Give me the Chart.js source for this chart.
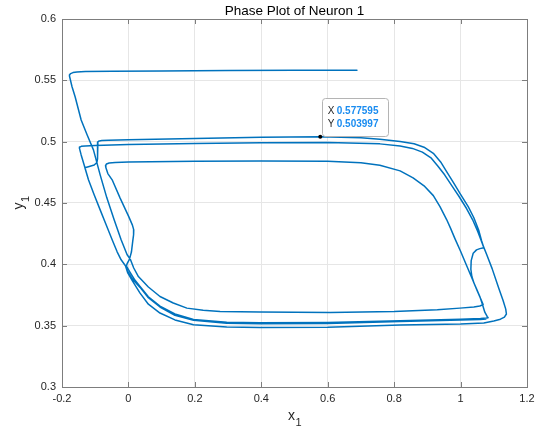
<!DOCTYPE html>
<html><head><meta charset="utf-8">
<script src="https://cdn.jsdelivr.net/npm/chart.js@4.4.1/dist/chart.umd.min.js"></script>
<style>html,body{margin:0;padding:0;background:#fff;} #wrap{width:542px;height:432px;}</style>
</head><body><div id="wrap"><canvas id="c" width="542" height="432"></canvas></div>
<script>
const FONT = '"Liberation Sans", Arial, Helvetica, sans-serif';
const titleText = 'Phase Plot of Neuron 1';
const xLabel = ['x', '1'];
const yLabel = ['y', '1'];
const xTickValues = [-0.2, 0, 0.2, 0.4, 0.6, 0.8, 1, 1.2];
const xTickLabels = ['-0.2', '0', '0.2', '0.4', '0.6', '0.8', '1', '1.2'];
const yTickValues = [0.3, 0.35, 0.4, 0.45, 0.5, 0.55, 0.6];
const yTickLabels = ['0.3', '0.35', '0.4', '0.45', '0.5', '0.55', '0.6'];
const tipX = 0.577595;
const tipY = 0.503997;

// trajectory segments, in order of traversal
const transientTopX = [0.688, 0.5, 0.3, 0.1, -0.05, -0.13, -0.155, -0.167, -0.174, -0.177];
const transientTopY = [0.5583, 0.5582, 0.5580, 0.5577, 0.5574, 0.5571, 0.5568, 0.5563, 0.5555, 0.5545];
const transientDownX = [-0.1775, -0.1700, -0.1603, -0.1423, -0.1242, -0.1053, -0.0851, -0.0650, -0.0430, -0.0220, -0.0039, 0.0060];
const transientDownY = [0.5535, 0.5450, 0.5364, 0.5177, 0.5055, 0.4933, 0.4729, 0.4542, 0.4363, 0.4200, 0.4078, 0.4040];
const innerBottomX = [0.016, 0.030, 0.060, 0.095, 0.135, 0.176, 0.225, 0.276, 0.396, 0.607, 0.8, 0.93, 0.998, 1.04, 1.058, 1.068];
const innerBottomY = [0.3970, 0.3900, 0.3815, 0.3738, 0.3685, 0.3643, 0.3625, 0.3616, 0.3611, 0.3608, 0.3615, 0.3630, 0.3643, 0.3653, 0.3660, 0.3672];
const innerTopX = [1.05, 1.035, 1.02, 1.0, 0.983, 0.97, 0.958, 0.938, 0.918, 0.89, 0.857, 0.818, 0.757, 0.70, 0.6, 0.4, 0.2, 0.0, -0.04, -0.058, -0.066];
const innerTopY = [0.3786, 0.3882, 0.3978, 0.4107, 0.4210, 0.4293, 0.4365, 0.4470, 0.4560, 0.4640, 0.4705, 0.4762, 0.4808, 0.4828, 0.4840, 0.4843, 0.4840, 0.4834, 0.4830, 0.4826, 0.4818];
const innerDownX = [-0.069, -0.068, -0.062, -0.049, -0.025, 0.001, 0.012, 0.016, 0.0155, 0.013, 0.009, 0.003, -0.004];
const innerDownY = [0.4805, 0.4790, 0.4740, 0.4689, 0.4540, 0.4389, 0.4320, 0.4281, 0.4240, 0.4190, 0.4100, 0.4040, 0.4005];
const bottomAX = [-0.006, 0.005, 0.020, 0.035, 0.060, 0.095, 0.14, 0.196, 0.296, 0.396, 0.6, 0.818, 1.0, 1.06, 1.078];
const bottomAY = [0.3985, 0.3935, 0.3870, 0.3820, 0.3735, 0.3659, 0.3595, 0.3550, 0.3528, 0.3523, 0.3525, 0.3540, 0.3553, 0.3558, 0.3562];
const kinkUpX = [1.083, 1.080, 1.073, 1.065, 1.058, 1.048, 1.040, 1.034, 1.031, 1.032, 1.038, 1.048, 1.058, 1.070];
const kinkUpY = [0.3565, 0.3575, 0.3610, 0.3680, 0.3738, 0.3800, 0.3850, 0.3900, 0.3960, 0.4030, 0.4090, 0.4118, 0.4128, 0.4135];
const upperTopX = [1.063, 1.055, 1.04, 1.023, 1.0, 0.98, 0.958, 0.94, 0.918, 0.89, 0.86, 0.818, 0.757, 0.70, 0.577595, 0.4, 0.2, 0.0, -0.06, -0.08, -0.088, -0.092];
const upperTopY = [0.4195, 0.4275, 0.4380, 0.4470, 0.4570, 0.4660, 0.4755, 0.4835, 0.4905, 0.4955, 0.4983, 0.5002, 0.5020, 0.5032, 0.503997, 0.5036, 0.5026, 0.5015, 0.5011, 0.5009, 0.5006, 0.4998];
const upperKinkX = [-0.093, -0.093, -0.095, -0.103, -0.118, -0.131];
const upperKinkY = [0.4920, 0.4860, 0.4830, 0.4810, 0.4798, 0.4788];
const leftLowX = [-0.1203, -0.1032, -0.0851, -0.0671, -0.0490, -0.0340, -0.0220, -0.0090];
const leftLowY = [0.4689, 0.4567, 0.4444, 0.4322, 0.4200, 0.4102, 0.4037, 0.3988];
const lowestBottomX = [-0.002, 0.012, 0.035, 0.06, 0.095, 0.14, 0.196, 0.296, 0.396, 0.6, 0.818, 1.0, 1.07, 1.10, 1.12, 1.132, 1.138];
const lowestBottomY = [0.3930, 0.3865, 0.3765, 0.3675, 0.3603, 0.3547, 0.3507, 0.3489, 0.3485, 0.3487, 0.3505, 0.3513, 0.3522, 0.3538, 0.3553, 0.3570, 0.3595];
const outerUpX = [1.136, 1.128, 1.115, 1.095, 1.078, 1.066, 1.052, 1.036, 1.018, 0.995, 0.975, 0.952, 0.932, 0.912, 0.885, 0.855, 0.818, 0.757, 0.6, 0.4, 0.2, 0.0, -0.1, -0.13, -0.142, -0.1465];
const outerUpY = [0.3635, 0.3705, 0.3805, 0.3965, 0.4085, 0.4165, 0.4265, 0.4365, 0.4455, 0.4555, 0.4635, 0.4730, 0.4800, 0.4865, 0.4915, 0.4945, 0.4965, 0.4982, 0.4993, 0.4992, 0.4985, 0.4976, 0.4968, 0.4965, 0.4962, 0.4956];
const leftHighX = [-0.1474, -0.1423, -0.1333];
const leftHighY = [0.4945, 0.4892, 0.4810];
const lastBottomX = [-0.003, 0.012, 0.035, 0.06, 0.095, 0.14, 0.196, 0.296, 0.396, 0.6, 0.818, 1.0, 1.06, 1.076];
const lastBottomY = [0.3945, 0.3880, 0.3812, 0.3728, 0.3652, 0.3585, 0.3544, 0.3520, 0.3516, 0.3518, 0.3533, 0.3546, 0.3551, 0.3554];

const segments = [
  [transientTopX, transientTopY], [transientDownX, transientDownY],
  [innerBottomX, innerBottomY], [innerTopX, innerTopY], [innerDownX, innerDownY],
  [bottomAX, bottomAY], [kinkUpX, kinkUpY], [upperTopX, upperTopY], [upperKinkX, upperKinkY],
  [leftLowX, leftLowY], [lowestBottomX, lowestBottomY], [outerUpX, outerUpY],
  [leftHighX, leftHighY], [leftLowX, leftLowY], [lastBottomX, lastBottomY]
];
const points = [];
segments.forEach(([xs, ys]) => xs.forEach((x, i) => points.push({x: x, y: ys[i]})));

const AXIS_COLOR = '#7d7d7d';
const TEXT_COLOR = '#262626';

const boxAndTicks = {
  id: 'boxAndTicks',
  beforeDatasetsDraw(chart) {
    const {ctx, chartArea: a, scales: {x, y}} = chart;
    const L = 5;
    ctx.save();
    ctx.strokeStyle = AXIS_COLOR;
    ctx.lineWidth = 1;
    ctx.beginPath();
    xTickValues.forEach(v => {
      const px = Math.round(x.getPixelForValue(v)) + 0.5;
      ctx.moveTo(px, a.bottom); ctx.lineTo(px, a.bottom - L);
      ctx.moveTo(px, a.top); ctx.lineTo(px, a.top + L);
    });
    yTickValues.forEach(v => {
      const py = Math.round(y.getPixelForValue(v)) + 0.5;
      ctx.moveTo(a.left, py); ctx.lineTo(a.left + L, py);
      ctx.moveTo(a.right, py); ctx.lineTo(a.right - L, py);
    });
    ctx.stroke();
    ctx.strokeRect(Math.round(a.left) + 0.5, Math.round(a.top) + 0.5, Math.round(a.right - a.left), Math.round(a.bottom - a.top));
    ctx.restore();
  }
};

const labels = {
  id: 'labels',
  afterDraw(chart) {
    const {ctx, chartArea: a} = chart;
    const cx = (a.left + a.right) / 2, cy = (a.top + a.bottom) / 2;
    ctx.save();
    ctx.textAlign = 'center';
    ctx.textBaseline = 'alphabetic';
    ctx.fillStyle = '#000';
    ctx.font = '13.5px ' + FONT;
    ctx.fillText(titleText, cx, 15);
    // x label with subscript
    ctx.fillStyle = TEXT_COLOR;
    ctx.textAlign = 'left';
    ctx.font = '14px ' + FONT;
    const wx = ctx.measureText(xLabel[0]).width;
    ctx.font = '11px ' + FONT;
    const w1 = ctx.measureText(xLabel[1]).width;
    let sx = cx - (wx + w1) / 2;
    ctx.font = '14px ' + FONT;
    ctx.fillText(xLabel[0], sx, 420);
    ctx.font = '11px ' + FONT;
    ctx.fillText(xLabel[1], sx + wx + 0.5, 426);
    // y label rotated with subscript
    ctx.translate(23, cy);
    ctx.rotate(-Math.PI / 2);
    ctx.font = '14px ' + FONT;
    const wy = ctx.measureText(yLabel[0]).width;
    sx = -(wy + w1) / 2;
    ctx.fillText(yLabel[0], sx, 0);
    ctx.font = '11px ' + FONT;
    ctx.fillText(yLabel[1], sx + wy + 0.5, 6);
    ctx.restore();
  }
};

const dataTip = {
  id: 'dataTip',
  afterDatasetsDraw(chart) {
    const {ctx, scales: {x, y}} = chart;
    const px = x.getPixelForValue(tipX), py = y.getPixelForValue(tipY);
    const bx = px + 1.5, by = py - 39, bw = 66, bh = 38;
    ctx.save();
    ctx.fillStyle = '#ffffff';
    ctx.strokeStyle = '#b4b4b4';
    ctx.lineWidth = 1;
    ctx.beginPath();
    ctx.roundRect(Math.round(bx) + 0.5, Math.round(by) + 0.5, bw, bh, 3);
    ctx.fill(); ctx.stroke();
    ctx.textBaseline = 'middle';
    ctx.textAlign = 'left';
    ctx.font = '10px ' + FONT;
    ctx.fillStyle = TEXT_COLOR;
    ctx.fillText('X', bx + 6, by + 13);
    ctx.fillText('Y', bx + 6, by + 26);
    ctx.font = 'bold 10px ' + FONT;
    ctx.fillStyle = '#1a8cf0';
    ctx.fillText(tipX.toFixed(6), bx + 15, by + 13);
    ctx.fillText(tipY.toFixed(6), bx + 15, by + 26);
    ctx.fillStyle = '#000';
    ctx.beginPath();
    ctx.arc(px, py, 2, 0, Math.PI * 2);
    ctx.fill();
    ctx.restore();
  }
};

new Chart(document.getElementById('c'), {
  type: 'scatter',
  data: {
    datasets: [{
      data: points,
      showLine: true,
      borderColor: '#0072BD',
      backgroundColor: '#0072BD',
      borderWidth: 1.5,
      pointRadius: 0,
      pointHoverRadius: 0,
      tension: 0,
      fill: false,
      borderJoinStyle: 'round',
      borderCapStyle: 'round'
    }]
  },
  options: {
    responsive: false,
    animation: false,
    events: [],
    layout: {padding: {left: 0, right: 15, top: 19, bottom: 0}},
    plugins: {
      legend: {display: false},
      tooltip: {enabled: false},
      title: {display: false}
    },
    scales: {
      x: {
        type: 'linear', min: -0.2, max: 1.2,
        afterBuildTicks: s => { s.ticks = xTickValues.map(v => ({value: v})); },
        afterFit: s => { s.height = 45; },
        ticks: {callback: (v, i) => xTickLabels[i], color: TEXT_COLOR, font: {family: FONT, size: 11}, padding: 5, maxRotation: 0, autoSkip: false},
        grid: {color: '#e6e6e6', drawTicks: false},
        border: {display: true, color: AXIS_COLOR},
        title: {display: false}
      },
      y: {
        type: 'linear', min: 0.3, max: 0.6,
        afterBuildTicks: s => { s.ticks = yTickValues.map(v => ({value: v})); },
        afterFit: s => { s.width = 62; },
        ticks: {callback: (v, i) => yTickLabels[i], color: TEXT_COLOR, font: {family: FONT, size: 11}, padding: 6, autoSkip: false},
        grid: {color: '#e6e6e6', drawTicks: false},
        border: {display: true, color: AXIS_COLOR},
        title: {display: false}
      }
    }
  },
  plugins: [boxAndTicks, dataTip, labels]
});
</script>
</body></html>
